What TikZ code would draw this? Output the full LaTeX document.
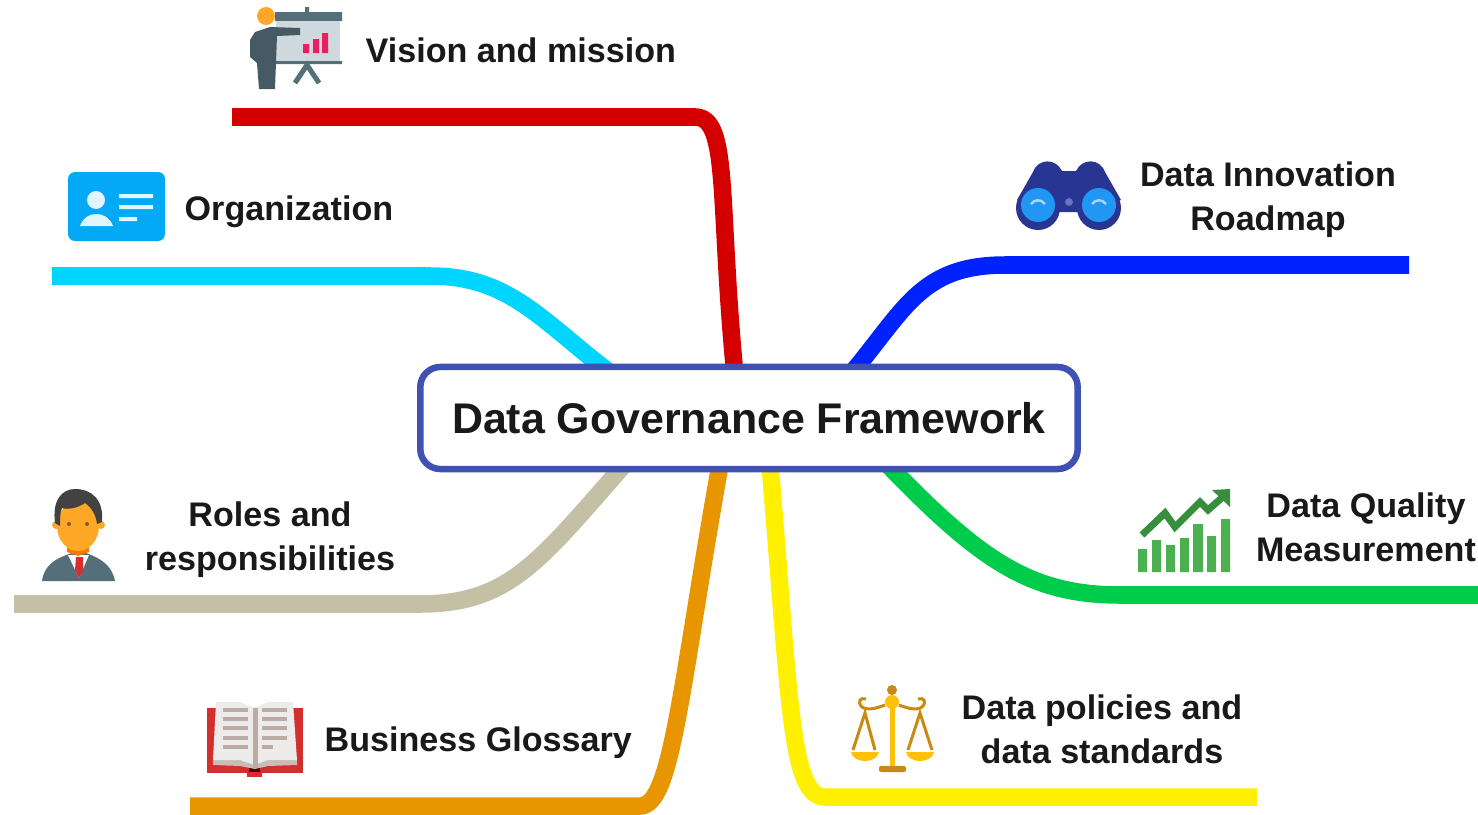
\documentclass[tikz,border=0pt]{standalone}
\usepackage{fontspec}
\setmainfont{Liberation Sans}
\definecolor{visionred}{HTML}{D40000}
\definecolor{orgcyan}{HTML}{00D5FF}
\definecolor{innovblue}{HTML}{0022FF}
\definecolor{rolesgrey}{HTML}{C4C0A6}
\definecolor{glossorange}{HTML}{E89600}
\definecolor{policyellow}{HTML}{FFF000}
\definecolor{qualgreen}{HTML}{00CC4C}
\definecolor{boxblue}{HTML}{3F51B5}
\definecolor{slate}{HTML}{546E7A}
\definecolor{slatedark}{HTML}{455A64}
\definecolor{screengrey}{HTML}{CFD8DC}
\definecolor{barpink}{HTML}{E91E63}
\definecolor{skin}{HTML}{FFA726}
\definecolor{skindark}{HTML}{F57C00}
\definecolor{hairgrey}{HTML}{424242}
\definecolor{tiered}{HTML}{D32F2F}
\definecolor{cardblue}{HTML}{03A9F4}
\definecolor{cardpale}{HTML}{E1F5FE}
\definecolor{binoblue}{HTML}{283593}
\definecolor{lensblue}{HTML}{2196F3}
\definecolor{chartgreen}{HTML}{4CAF50}
\definecolor{arrowgreen}{HTML}{388E3C}
\definecolor{gold}{HTML}{FFC107}
\definecolor{golddark}{HTML}{C98A12}
\definecolor{pagewhite}{HTML}{EEECEA}
\definecolor{pagetone}{HTML}{BCAAA4}
\tikzset{
  branch/.style={line width=0.175cm},
  topic/.style={inner sep=0pt, font=\fontsize{9.7pt}{12.5pt}\selectfont\bfseries, align=center, text=black!90},
  maintitle/.style={draw=boxblue, line width=0.065cm, fill=white, rounded corners=0.2cm,
    minimum width=6.57cm, minimum height=1.02cm,
    font=\fontsize{12.2pt}{14pt}\selectfont\bfseries, text=black!90},
}
\begin{document}
\begin{tikzpicture}[x=0.01cm, y=-0.01cm]
  \useasboundingbox (0,0) rectangle (1478,815);
  % free ends of the branches
  \coordinate (visionend) at (232,117);
  \coordinate (orgend) at (52,276);
  \coordinate (innovend) at (1409,265);
  \coordinate (qualend) at (1478,595);
  \coordinate (rolesend) at (14,604);
  \coordinate (glossend) at (190,806);
  \coordinate (policyend) at (1257,797);
  \coordinate (visionroot) at (735,375);
  \coordinate (orgroot) at (613,375);
  \coordinate (innovroot) at (850,375);
  \coordinate (qualroot) at (888,465);
  \coordinate (rolesroot) at (624,465);
  \coordinate (glossroot) at (720,465);
  \coordinate (policyroot) at (770,465);

  \draw[branch, visionred] (visionend) -- (695,117) .. controls (730,117) and (718,200) .. (visionroot);
  \draw[branch, orgcyan] (orgend) -- (430,276) .. controls (510,276) and (540,320) .. (orgroot);
  \draw[branch, innovblue] (innovend) -- (1005,265) .. controls (920,265) and (905,310) .. (innovroot);
  \draw[branch, qualgreen] (qualend) -- (1120,595) .. controls (1030,595) and (980,560) .. (qualroot);
  \draw[branch, rolesgrey] (rolesend) -- (420,604) .. controls (510,604) and (540,560) .. (rolesroot);
  \draw[branch, glossorange] (glossend) -- (640,806) .. controls (672,806) and (680,690) .. (glossroot);
  \draw[branch, policyellow] (policyend) -- (825,797) .. controls (790,797) and (790,700) .. (policyroot);

  \node[maintitle] (title) at (749,418) {Data Governance Framework};
  \node[topic, anchor=west] (vision) at (365,50) {Vision and mission};
  \node[topic, anchor=west] (org) at (184,212) {Organization};
  \node[topic] (innov) at (1268,200) {Data Innovation\\Roadmap};
  \node[topic] (qual) at (1366,527) {Data Quality\\Measurement};
  \node[topic] (roles) at (270,540) {Roles and\\responsibilities};
  \node[topic, anchor=west] (gloss) at (324,743) {Business Glossary};
  \node[topic] (policy) at (1102,729) {Data policies and\\data standards};

  % presenter
  \fill[slate] (275,12) rectangle (342,21) (276,61) rectangle (342,64) (305,7) rectangle (309,12);
  \fill[screengrey] (276,21) rectangle (340,61);
  \fill[barpink] (303,44) rectangle (309,53) (313,39) rectangle (319,53) (322,33) rectangle (328,53);
  \draw[slate, line width=0.05cm] (295,83) -- (307,65) -- (319,83);
  \fill[slatedark] (300,28) -- (300,35) -- (277,36) -- (275,89) -- (259,89) -- (257,63) -- (250,57) -- (250,40) -- (255,32) -- (270,27) -- cycle;
  \fill[skin] (266,16) circle (9);

  % id card
  \fill[cardblue, rounded corners=0.07cm] (68,172) rectangle (165,241);
  \fill[cardpale] (96,200) circle (9);
  \fill[cardpale] (80,226) .. controls (83,218) and (89,214) .. (96,214) .. controls (104,214) and (110,218) .. (113,226) -- cycle;
  \fill[cardpale] (119,194) rectangle (153,198) (119,205) rectangle (153,209) (119,217) rectangle (137,221);

  % binoculars
  \fill[binoblue] (1017,200) -- (1033,172) .. controls (1038,158) and (1056,158) .. (1062,171) -- (1076,171) .. controls (1082,158) and (1100,158) .. (1105,172) -- (1121,200) -- (1090,212) -- (1048,212) -- cycle;
  \fill[binoblue] (1038,208) circle (22) (1099,208) circle (22);
  \fill[lensblue] (1038,205) circle (17) (1099,205) circle (17);
  \fill[boxblue!80!white] (1069,202) circle (4);
  \draw[cardpale!70!lensblue, line width=0.025cm] (1031,204) .. controls (1035,199) and (1041,199) .. (1045,204) (1092,204) .. controls (1096,199) and (1102,199) .. (1106,204);

  % chart
  \fill[chartgreen] (1138,549) rectangle (1147,572) (1152,540) rectangle (1161,572) (1166,545) rectangle (1175,572) (1180,538) rectangle (1189,572) (1193,524) rectangle (1203,572) (1207,536) rectangle (1216,572) (1221,519) rectangle (1230,572);
  \draw[arrowgreen, line width=0.07cm] (1142,535) -- (1165,513) -- (1175,527) -- (1200,502) -- (1208,510) -- (1225,495);
  \fill[arrowgreen] (1230,489) -- (1212,490) -- (1230,507) -- cycle;

  % person
  \fill[slate] (42,581) .. controls (44,565) and (56,558) .. (72,553) -- (86,553) .. controls (100,558) and (112,565) .. (115,581) -- cycle;
  \fill[white] (68,555) -- (89,555) -- (79,578) -- cycle;
  \fill[tiered] (76,557) -- (83,557) -- (83,570) -- (79,578) -- (75,570) -- cycle;
  \fill[skindark] (67,545) -- (89,545) -- (89,552) -- (78,556) -- (67,552) -- cycle;
  \fill[skin] (56,525) circle (4) (101,525) circle (4);
  \fill[skin] (78,526) ellipse (21 and 25);
  \fill[hairgrey] (55,523) .. controls (52,500) and (62,489) .. (75,489) .. controls (92,489) and (104,500) .. (102,522) -- (97,524) .. controls (96,515) and (92,508) .. (85,503) .. controls (78,508) and (68,510) .. (62,508) .. controls (60,512) and (60,520) .. (60,526) -- cycle;
  \fill[brown!70!black] (69,524) circle (2) (87,524) circle (2);

  % book
  \fill[tiered] (207,708) rectangle (303,773);
  \fill[tiered] (247,770) rectangle (262,777);
  \fill[black!70!red] (249,768) rectangle (260,772);
  \fill[pagetone!80!white] (213,760) -- (297,760) -- (297,765) -- (268,766) -- (255,769) -- (240,766) -- (213,765) -- cycle;
  \fill[pagewhite] (216,702) -- (240,702) -- (255,708) -- (255,765) -- (240,760) -- (213,760) -- cycle;
  \fill[pagewhite] (293,702) -- (268,702) -- (254,708) -- (254,765) -- (268,760) -- (297,760) -- cycle;
  \fill[pagetone] (253,708) rectangle (258,768);
  \foreach \linepos in {710,719,728,738,747} {
    \fill[pagetone] (223,\linepos-2) rectangle (248,\linepos+2);
  }
  \foreach \linepos in {710,719,728,738} {
    \fill[pagetone] (262,\linepos-2) rectangle (287,\linepos+2);
  }
  \fill[pagetone] (262,745) rectangle (273,749);

  % scales
  \fill[gold] (890,702) rectangle (895,766);
  \fill[golddark, rounded corners=0.02cm] (879,766) rectangle (906,772);
  \fill[golddark] (892,690) circle (5);
  \fill[gold] (892,702) circle (7);
  \draw[golddark, line width=0.03cm] (885,705) .. controls (877,708) and (868,711) .. (862,707) .. controls (857,702) and (860,697) .. (866,699);
  \draw[golddark, line width=0.03cm] (899,705) .. controls (907,708) and (916,711) .. (922,707) .. controls (927,702) and (924,697) .. (918,699);
  \draw[golddark, line width=0.03cm] (853,750) -- (865,713) -- (875,750) (908,750) -- (920,713) -- (932,750);
  \fill[gold] (851,752) .. controls (853,764) and (877,764) .. (879,752) -- cycle;
  \fill[gold] (906,752) .. controls (908,764) and (932,764) .. (934,752) -- cycle;
\end{tikzpicture}
\end{document}
